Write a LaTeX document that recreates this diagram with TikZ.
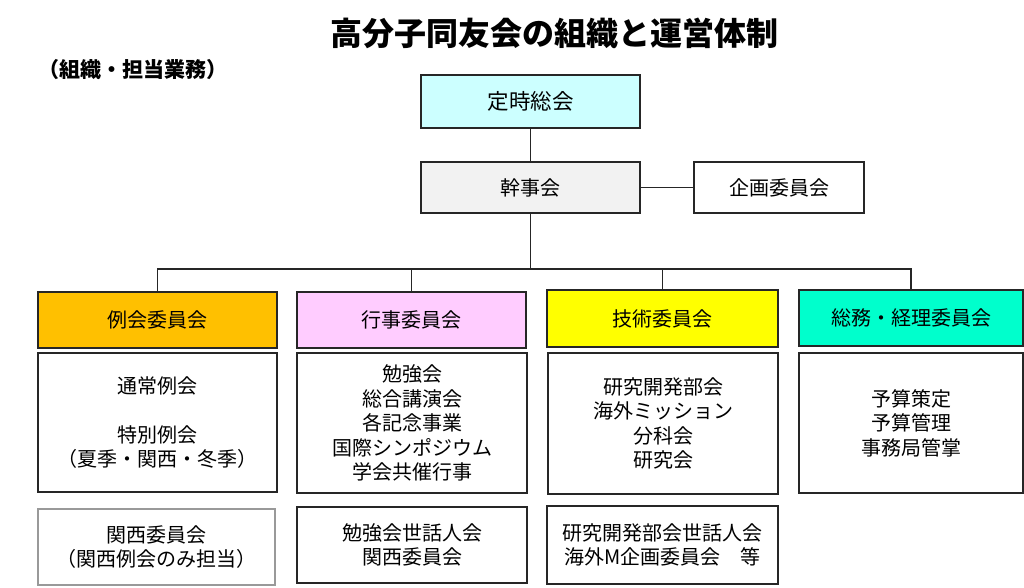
\documentclass[tikz,border=0pt]{standalone}
\usepackage{fontspec}
\setmainfont{Noto Sans CJK JP}
\definecolor{linec}{HTML}{262626}
\definecolor{cyanbox}{HTML}{CCFFFF}
\definecolor{graybox}{HTML}{F2F2F2}
\definecolor{orangebox}{HTML}{FFC000}
\definecolor{pinkbox}{HTML}{FFCCFF}
\definecolor{yellowbox}{HTML}{FFFF00}
\definecolor{tealbox}{HTML}{00FFCC}
\tikzset{
  box/.style={draw=linec, line width=1.6pt, inner sep=0pt, align=center,
    font=\fontsize{20}{24.4}\selectfont, text=black},
  lightbox/.style={box, draw=gray!80, line width=1.2pt},
  conn/.style={draw=linec, line width=1.3pt},
}
\begin{document}
\begin{tikzpicture}[x=1pt,y=-1pt]
\useasboundingbox (0,0) rectangle (1024,587);
% titles
\node[font=\fontsize{32}{36}\selectfont\bfseries] (title) at (554,33) {高分子同友会の組織と運営体制};
\node[anchor=west, inner sep=0pt, font=\fontsize{21}{24}\selectfont\bfseries] (sub) at (38,70) {（組織・担当業務）};
% top
\node[box, fill=cyanbox, minimum width=219, minimum height=53, font=\fontsize{21.5}{24}\selectfont] (soukai) at (530.5,101.5) {定時総会};
\node[box, fill=graybox, minimum width=219, minimum height=51] (kanji) at (530.5,187.5) {幹事会};
\node[box, fill=white, minimum width=170, minimum height=51] (kikaku) at (779,187.5) {企画委員会};
% headers
\node[box, fill=orangebox, minimum width=239, minimum height=56] (reikai) at (157.5,320) {例会委員会};
\node[box, fill=pinkbox, minimum width=229, minimum height=56] (gyouji) at (411.5,320) {行事委員会};
\node[box, fill=yellowbox, minimum width=231, minimum height=57] (gijutsu) at (662.5,318.5) {技術委員会};
\node[box, fill=tealbox, minimum width=224, minimum height=56] (soumu) at (911,318) {総務・経理委員会};
% contents
\node[box, minimum width=239, minimum height=139] (reikaiC) at (157.5,422.5) {通常例会\\[24.4pt]特別例会\\（夏季・関西・冬季）};
\node[box, minimum width=230, minimum height=140] (gyoujiC) at (412,423) {勉強会\\総合講演会\\各記念事業\\国際シンポジウム\\学会共催行事};
\node[box, minimum width=230, minimum height=141] (gijutsuC) at (663,423.5) {研究開発部会\\海外ミッション\\分科会\\研究会};
\node[box, minimum width=224, minimum height=140] (soumuC) at (911,423) {予算策定\\予算管理\\事務局管掌};
% bottom
\node[lightbox, minimum width=237, minimum height=76] (kansai) at (156.5,547) {関西委員会\\（関西例会のみ担当）};
\node[box, minimum width=230, minimum height=76] (gyoujiB) at (412,545) {勉強会世話人会\\関西委員会};
\node[box, minimum width=231, minimum height=78] (gijutsuB) at (662.5,545) {研究開発部会世話人会\\海外M企画委員会　等};
% connectors
\coordinate (bus) at (0,269);
\draw[conn] (soukai) -- (kanji);
\draw[conn] (kanji) -- (kikaku);
\draw[conn] (kanji.south) -- (kanji.south |- bus);
\draw[conn] (reikai.north) |- (bus -| soumu.north) -- (soumu.north);
\draw[conn] (gyouji.north) -- (gyouji.north |- bus);
\draw[conn] (gijutsu.north) -- (gijutsu.north |- bus);
\end{tikzpicture}
\end{document}
